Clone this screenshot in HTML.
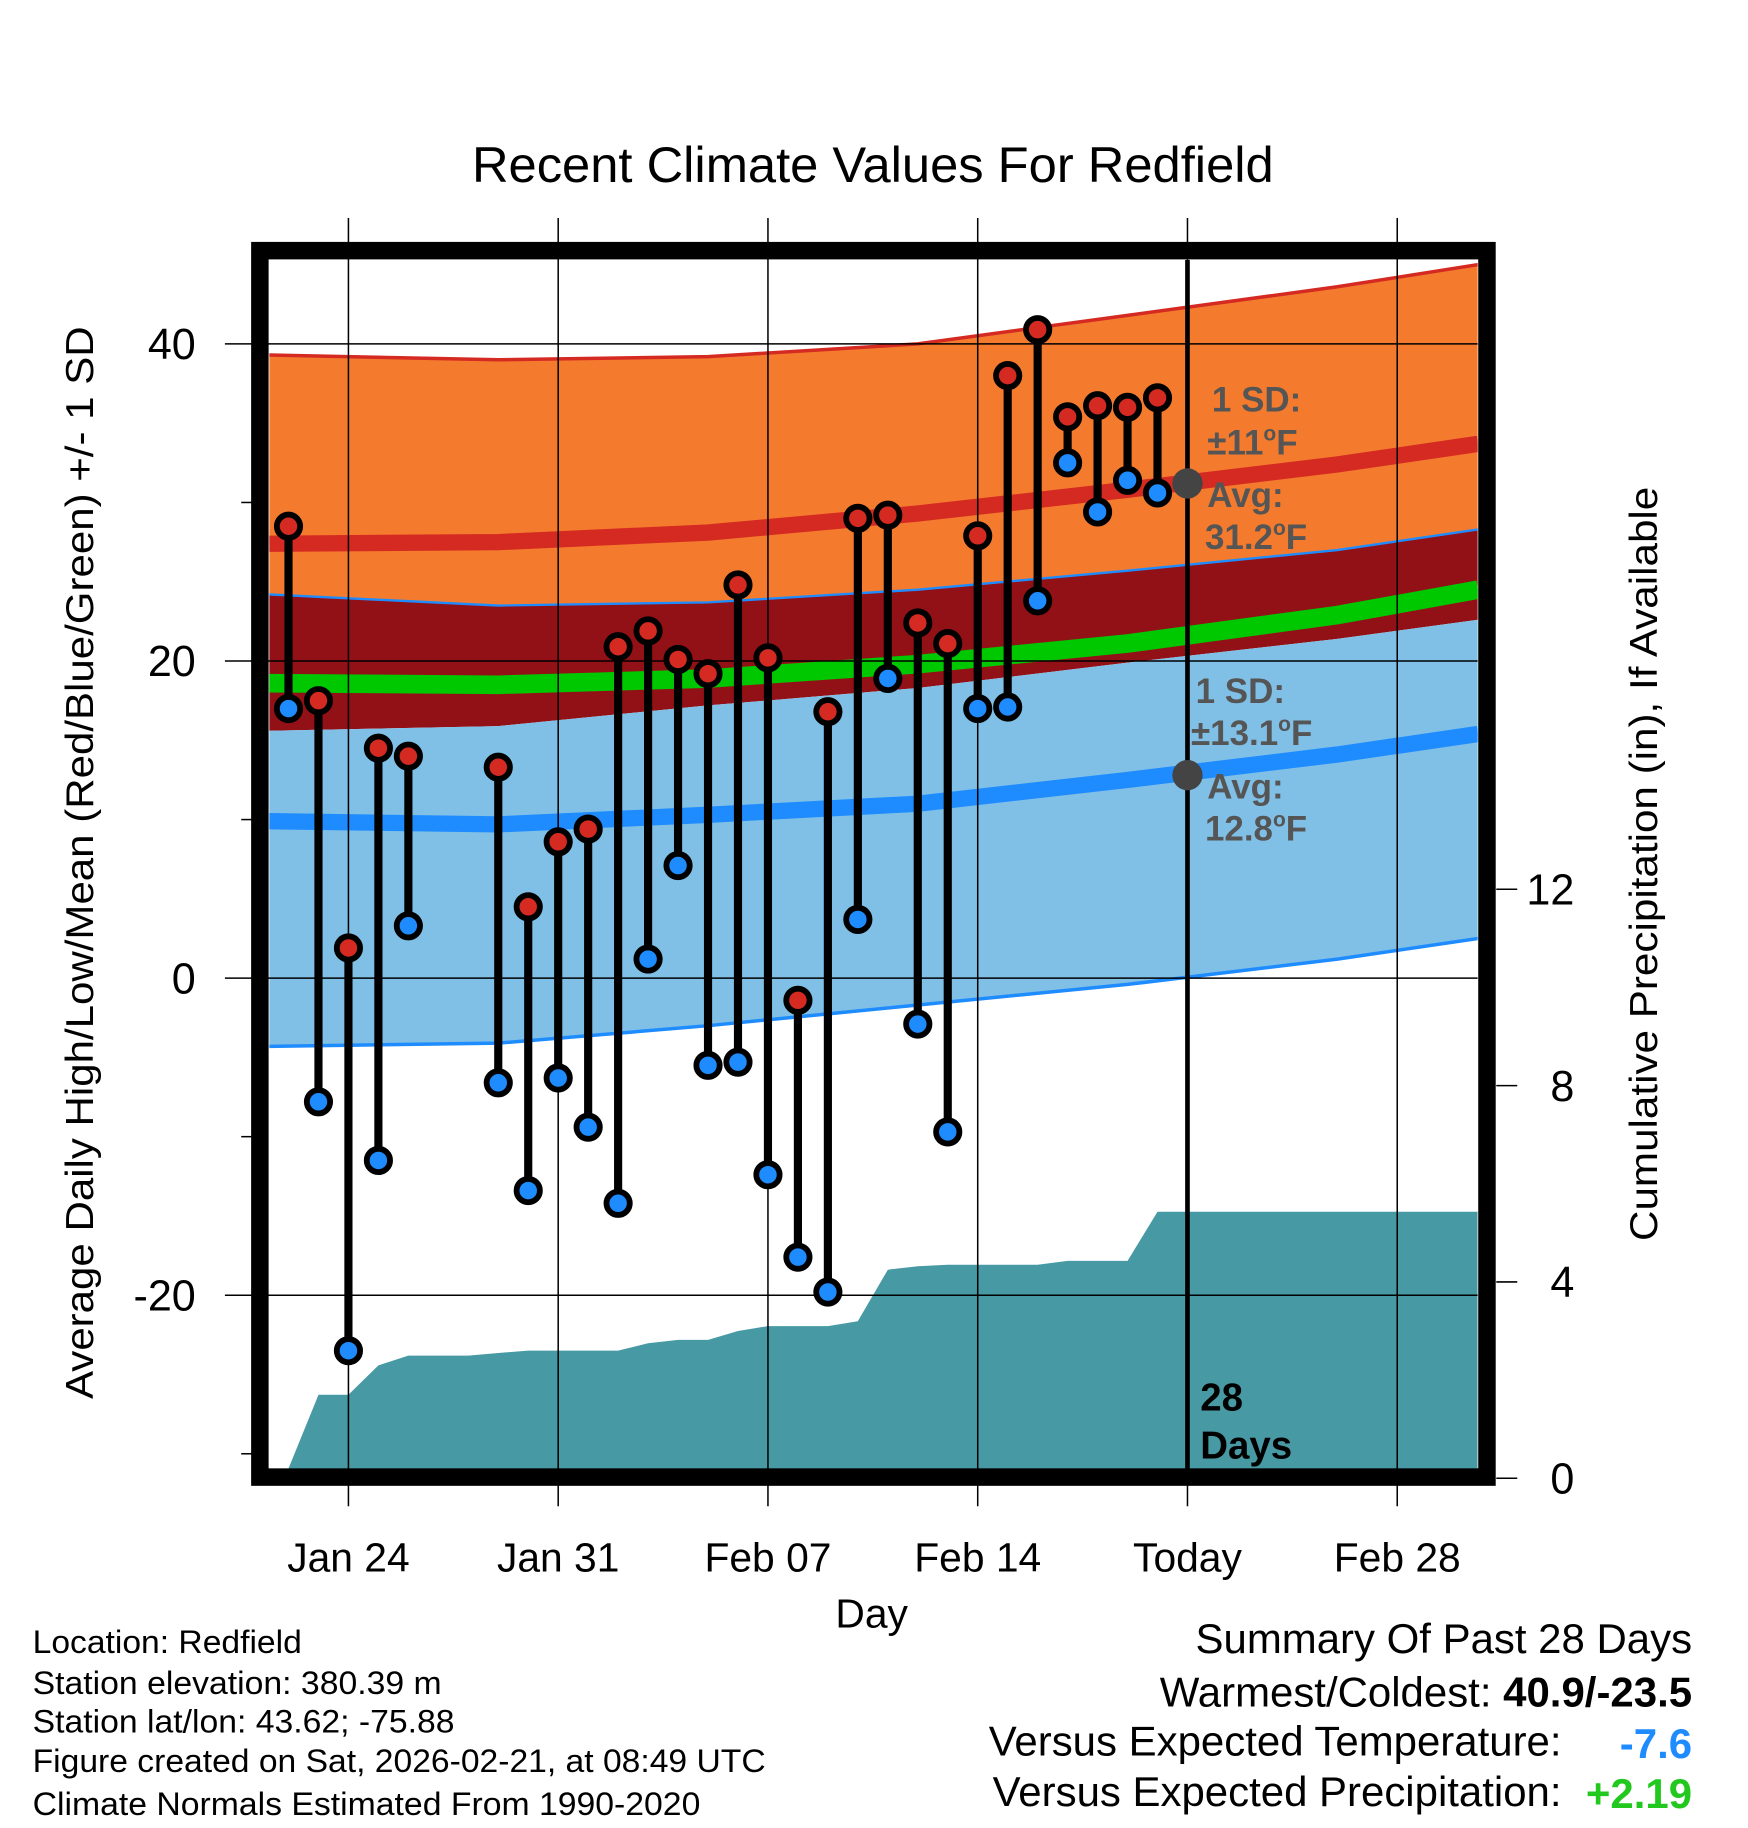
<!DOCTYPE html>
<html><head><meta charset="utf-8"><style>
html,body{margin:0;padding:0;background:#fff;}
svg{display:block;font-family:"Liberation Sans",sans-serif;}
</style></head><body>
<svg id="c" width="1748" height="1828" viewBox="0 0 1500 1568" preserveAspectRatio="none" xmlns="http://www.w3.org/2000/svg"></svg>
<script>
// ---- data ----
const dayOffsets = [-2,-1,0,1,2,3,4,5,6,7,8,9,10,11,12,13,14,15,16,17,18,19,20,21,22,23,24,25,26,27];
const highs = [28.5,17.5,1.9,14.5,14,null,null,13.3,4.5,8.6,9.4,20.9,21.9,20.1,19.2,24.8,20.2,-1.4,16.8,29.0,29.2,22.4,21.1,27.9,38.0,40.9,35.4,36.1,36.0,36.6];
const lows  = [17,-7.8,-23.5,-11.5,3.3,null,null,-6.6,-13.4,-6.3,-9.4,-14.2,1.2,7.1,-5.5,-5.3,-12.4,-17.6,-19.8,3.7,18.9,-2.9,-9.7,17,17.1,23.8,32.5,29.4,31.4,30.6];
const precip = [0.2,1.7,1.7,2.3,2.5,2.5,2.5,2.55,2.6,2.6,2.6,2.6,2.75,2.82,2.82,3.0,3.1,3.1,3.1,3.2,4.25,4.32,4.35,4.35,4.35,4.35,4.43,4.43,4.43,5.43];
const normDays = [-2.64,5,12,19,26,33,37.7];
const highPlusSD = [39.3,39.0,39.2,40.0,41.8,43.6,45.0];
const highMean = [27.4,27.5,28.1,29.3,30.8,32.4,33.7];
const highMinusSD = [24.2,23.5,23.7,24.5,25.7,27.0,28.3];
const meanLine = [18.6,18.5,18.9,19.8,21.1,22.9,24.5];
const lowPlusSD = [15.6,15.9,17.2,18.3,19.9,21.4,22.6];
const lowMean = [9.9,9.7,10.3,11.0,12.5,14.1,15.4];
const lowMinusSD = [-4.3,-4.1,-3.0,-1.7,-0.4,1.2,2.5];
const todayDay = 28;
const todayNormals = [31.2,12.8];
const xTickDays = [0,7,14,21,28,35];
const xTickLabels = ["Jan 24","Jan 31","Feb 07","Feb 14","Today","Feb 28"];
const yTicks = [40,20,0,-20];
const yMinor = [30,10,-10,-30];
const pTicks = [0,4,8,12];

// ---- axes ----
const X = d => 299 + d*180/7;
const Y = t => 839 - t*13.6;
const P = p => 1268 - p*42.1;
const L=231,R=1268,T=223,B=1260;
const svg=document.getElementById('c');
const NS='http://www.w3.org/2000/svg';
function el(tag,attrs,parent,text){const e=document.createElementNS(NS,tag);for(const k in attrs)e.setAttribute(k,attrs[k]);if(text!==undefined)e.textContent=text;(parent||svg).appendChild(e);return e;}
const defs=el('defs',{});
const cp=el('clipPath',{id:'pc'},defs);el('rect',{x:L,y:T,width:R-L,height:B-T},cp);
const g=el('g',{'clip-path':'url(#pc)'});


function curve(arr){return normDays.map((d,i)=>[X(d),Y(arr[i])]);}
function smooth(pts){let s='';for(let i=0;i<pts.length;i++){s+=(i?' L':'M')+pts[i][0].toFixed(1)+','+pts[i][1].toFixed(1);}return s;}
function band(top,bot,fill,name){const a=curve(top),b=curve(bot).reverse();const p=el('path',{d:smooth(a.concat(b))+'Z',fill:fill},g);}
band(highPlusSD,highMinusSD,'#f47b2e','high-sd-band');
band(highMinusSD,lowPlusSD,'#921117','overlap-band');
band(lowPlusSD,lowMinusSD,'#80c0e6','low-sd-band');
function line(arr,col,w,name){const p=el('path',{d:smooth(curve(arr)),fill:'none',stroke:col,'stroke-width':w},g);}
line(highPlusSD,'#d42a22',3,'high-plus-sd-line');
line(highMean,'#d42a22',14,'high-mean-line');
line(highMinusSD,'#1e8cff',2,'high-minus-sd-line');
line(meanLine,'#00c800',16,'mean-line');
line(lowMean,'#1e8cff',14,'low-mean-line');
line(lowMinusSD,'#1e8cff',3,'low-minus-sd-line');
// precip area
let pp='M'+L+','+B;
pp+=' L'+X(dayOffsets[0])+','+P(precip[0]);
for(let i=1;i<dayOffsets.length;i++)pp+=' L'+X(dayOffsets[i]).toFixed(1)+','+P(precip[i]).toFixed(1);
pp+=' L'+R+','+P(precip[precip.length-1])+' L'+R+','+B+'Z';
const pa=el('path',{d:pp,fill:'#4799a3'},g);


// gridlines
xTickDays.forEach(d=>{const l=el('line',{x1:X(d),x2:X(d),y1:187,y2:1292,stroke:'#000','stroke-width':1.3});});
yTicks.forEach(t=>{const l=el('line',{x1:193,x2:R,y1:Y(t),y2:Y(t),stroke:'#000','stroke-width':1.3});});
yMinor.forEach(t=>{const l=el('line',{x1:207,x2:216,y1:Y(t),y2:Y(t),stroke:'#000','stroke-width':1.3});});
pTicks.forEach(p=>{const l=el('line',{x1:1284,x2:1302,y1:P(p),y2:P(p),stroke:'#000','stroke-width':1.3});
 const t=el('text',{x:1351,y:P(p)+13,'font-size':37,'text-anchor':'end'},svg,String(p));});
yTicks.forEach(v=>{const t=el('text',{x:168,y:Y(v)+13,'font-size':37,'text-anchor':'end'},svg,String(v));});
xTickDays.forEach((d,i)=>{const t=el('text',{x:X(d),y:1348,'font-size':35,'text-anchor':'middle'},svg,xTickLabels[i]);});
// today line
const tl=el('line',{x1:X(todayDay),x2:X(todayDay),y1:T,y2:B,stroke:'#000','stroke-width':4});

// markers
dayOffsets.forEach((d,i)=>{if(highs[i]===null)return;const x=X(d);
 const s=el('line',{x1:x,x2:x,y1:Y(highs[i]),y2:Y(lows[i]),stroke:'#000','stroke-width':7});
 const h=el('circle',{cx:x,cy:Y(highs[i]),r:10,fill:'#d42a22',stroke:'#000','stroke-width':5});
 const lo=el('circle',{cx:x,cy:Y(lows[i]),r:10,fill:'#1e8cff',stroke:'#000','stroke-width':5});
});
// frame
const fr=el('rect',{x:223,y:215,width:1053,height:1052,fill:'none',stroke:'#000','stroke-width':15});

// avg markers
todayNormals.forEach(v=>{const c=el('circle',{cx:X(todayDay),cy:Y(v),r:13,fill:'#444'});});
</script>
<svg style="position:absolute;left:0;top:0" width="1748" height="1828" viewBox="0 0 1500 1568" preserveAspectRatio="none">
<g font-family="Liberation Sans, sans-serif">
<text x="749" y="156" font-size="43" text-anchor="middle" textLength="688" lengthAdjust="spacingAndGlyphs">Recent Climate Values For Redfield</text>
<text transform="translate(80,740) rotate(-90)" font-size="33" text-anchor="middle" textLength="920" lengthAdjust="spacingAndGlyphs">Average Daily High/Low/Mean (Red/Blue/Green) +/- 1 SD</text>
<text transform="translate(1422,741) rotate(-90)" font-size="33" text-anchor="middle" textLength="647" lengthAdjust="spacingAndGlyphs">Cumulative Precipitation (in), If Available</text>
<text x="748" y="1396" font-size="35" text-anchor="middle">Day</text>
<g fill="#555" font-weight="bold" font-size="30">
<text x="1040" y="353">1 SD:</text>
<text x="1036" y="390">±11<tspan font-size="18" dy="-12">o</tspan><tspan dy="12">F</tspan></text>
<text x="1036" y="435">Avg:</text>
<text x="1034" y="471">31.2<tspan font-size="18" dy="-12">o</tspan><tspan dy="12">F</tspan></text>
</g>
<g fill="#555" font-weight="bold" font-size="30">
<text x="1026" y="603">1 SD:</text>
<text x="1022" y="639">±13.1<tspan font-size="18" dy="-12">o</tspan><tspan dy="12">F</tspan></text>
<text x="1036" y="685">Avg:</text>
<text x="1034" y="721">12.8<tspan font-size="18" dy="-12">o</tspan><tspan dy="12">F</tspan></text>
</g>
<text x="1030" y="1210" font-size="33" font-weight="bold">28</text>
<text x="1030" y="1251" font-size="33" font-weight="bold">Days</text>
<g font-size="28">
<text x="28" y="1418" textLength="231" lengthAdjust="spacingAndGlyphs">Location: Redfield</text>
<text x="28" y="1453" textLength="351" lengthAdjust="spacingAndGlyphs">Station elevation: 380.39 m</text>
<text x="28" y="1486" textLength="362" lengthAdjust="spacingAndGlyphs">Station lat/lon: 43.62; -75.88</text>
<text x="28" y="1520" textLength="629" lengthAdjust="spacingAndGlyphs">Figure created on Sat, 2026-02-21, at 08:49 UTC</text>
<text x="28" y="1557" textLength="573" lengthAdjust="spacingAndGlyphs">Climate Normals Estimated From 1990-2020</text>
</g>
<g font-size="36">
<text x="1452" y="1418" text-anchor="end">Summary Of Past 28 Days</text>
<text x="1452" y="1464" text-anchor="end">Warmest/Coldest: <tspan font-weight="bold">40.9/-23.5</tspan></text>
<text x="1340" y="1506" text-anchor="end">Versus Expected Temperature:</text>
<text x="1452" y="1508" text-anchor="end" fill="#1e8cff" font-weight="bold">-7.6</text>
<text x="1340" y="1549" text-anchor="end">Versus Expected Precipitation:</text>
<text x="1452" y="1551" text-anchor="end" fill="#22c81e" font-weight="bold">+2.19</text>
</g>
</g>
</svg>
</body></html>
